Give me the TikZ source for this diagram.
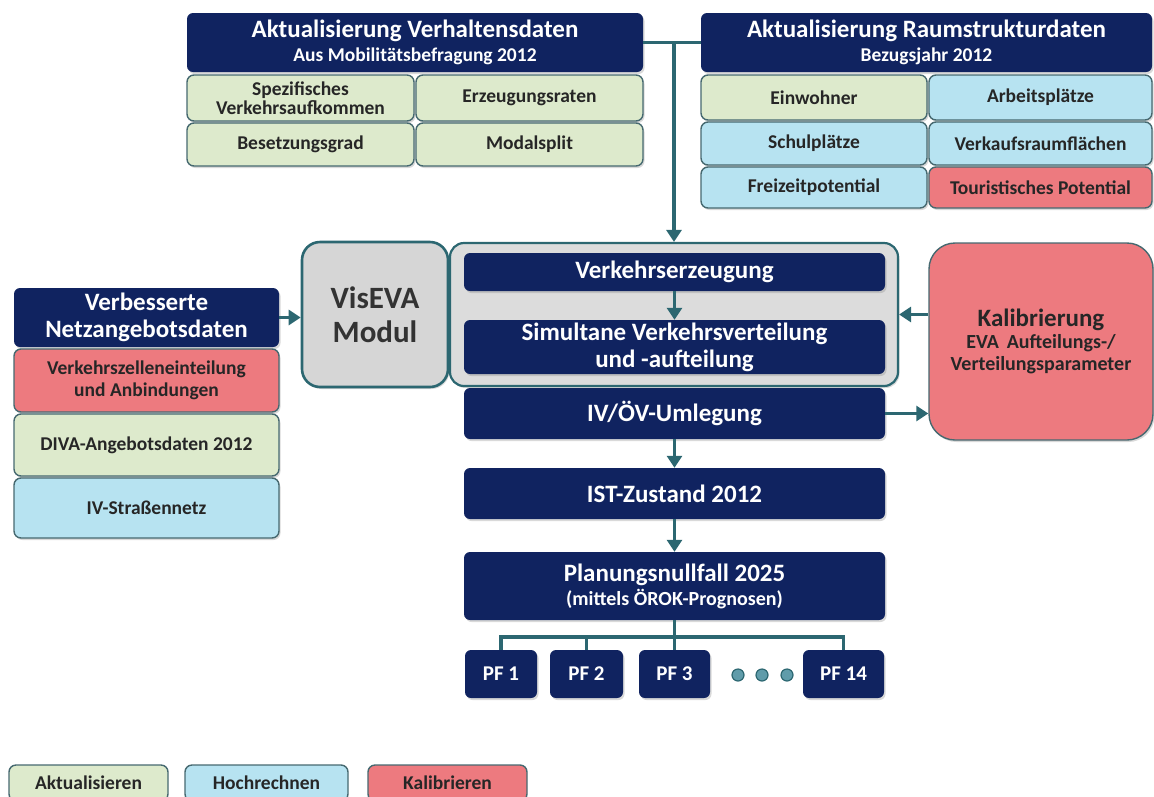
\documentclass[tikz,border=0pt]{standalone}
\usepackage{fontspec}
\setmainfont{Carlito}
\usetikzlibrary{arrows.meta,shadows}
\definecolor{navy}{RGB}{16,35,96}
\definecolor{lgreen}{RGB}{221,234,204}
\definecolor{lblue}{RGB}{183,227,241}
\definecolor{lred}{RGB}{237,122,127}
\definecolor{lgray}{RGB}{214,214,214}
\definecolor{teal}{RGB}{44,103,113}
\definecolor{edge}{RGB}{70,105,112}
\definecolor{dotfill}{RGB}{96,156,170}
\tikzset{
  shade/.style={drop shadow={shadow xshift=1.5pt,shadow yshift=-2pt,opacity=.3}},
  navybox/.style={shade,fill=navy,rounded corners=6pt,text=white,inner sep=0pt,
     align=center,font=\bfseries\fontsize{25}{27}\selectfont},
  cell/.style={shade,draw=edge,line width=1.4pt,rounded corners=7pt,inner sep=0pt,
     align=center,text=black!85,font=\bfseries\fontsize{19.5}{21}\selectfont},
  green/.style={cell,fill=lgreen},
  blue/.style={cell,fill=lblue},
  red/.style={cell,fill=lred},
  arr/.style={draw=teal,line width=3.6pt,-{Triangle[width=15pt,length=12pt]}},
  link/.style={draw=teal,line width=3.6pt},
  sz/.style 2 args={minimum width=#1pt,minimum height=#2pt},
}
\begin{document}
\begin{tikzpicture}[x=1pt,y=-1pt]
\useasboundingbox (0,0) rectangle (1154,796);

% behaviour data block
\node[navybox,sz={456}{59}] (hv) at (415,42.5)
  {Aktualisierung Verhaltensdaten\\[-3pt]{\fontsize{19.5}{21}\selectfont Aus Mobilitätsbefragung 2012}};
\node[green,sz={227}{46}] (g1) at (300.5,98) {Spezifisches\\[-2pt]Verkehrsaufkommen};
\node[green,sz={227}{46}] (g2) at (529.5,98) {Erzeugungsraten};
\node[green,sz={227}{43}] (g3) at (300.5,144.5) {Besetzungsgrad};
\node[green,sz={227}{43}] (g4) at (529.5,144.5) {Modalsplit};

% spatial structure data block
\node[navybox,sz={451}{59}] (hr) at (926.5,42.5)
  {Aktualisierung Raumstrukturdaten\\[-3pt]{\fontsize{19.5}{21}\selectfont Bezugsjahr 2012}};
\node[green,sz={226}{45}] (r1) at (814,97.5) {Einwohner};
\node[blue,sz={223}{45}] (r2) at (1040.5,97.5) {Arbeitsplätze};
\node[blue,sz={226}{43}] (r3) at (814,143.5) {Schulplätze};
\node[blue,sz={223}{43}] (r4) at (1040.5,143.5) {Verkaufsraumflächen};
\node[blue,sz={226}{41}] (r5) at (814,187.5) {Freizeitpotential};
\node[red,sz={223}{41}] (r6) at (1040.5,187.5) {Touristisches Potential};

% network data block
\node[navybox,sz={265}{59},font=\bfseries\fontsize{25}{27}\selectfont] (nv) at (146.5,317.5)
  {Verbesserte\\[0pt]Netzangebotsdaten};
\node[red,sz={265}{63}] (n1) at (146.5,380.5) {Verkehrszelleneinteilung\\[1pt]und Anbindungen};
\node[green,sz={265}{62}] (n2) at (146.5,445) {DIVA-Angebotsdaten 2012};
\node[blue,sz={265}{60}] (n3) at (146.5,508) {IV-Straßennetz};

% model
\node[shade,draw=teal,line width=2.6pt,fill=lgray,rounded corners=18pt,sz={146}{145},
  align=center,font=\bfseries\fontsize{31}{34}\selectfont,text=black!80] (vis) at (375,314.5)
  {VisEVA\\Modul};
\node[shade,draw=teal,line width=2.2pt,fill=lgray!85,rounded corners=14pt,sz={448}{143}] (cont) at (674,314.5) {};
\node[navybox,sz={421}{38}] (ve) at (674.5,272) {Verkehrserzeugung};
\node[navybox,sz={421}{54},font=\bfseries\fontsize{25}{27}\selectfont] (sim) at (674.5,347)
  {Simultane Verkehrsverteilung\\und -aufteilung};
\node[navybox,sz={421}{51}] (iv) at (674.5,413.5) {IV/ÖV-Umlegung};
\node[navybox,sz={421}{51}] (ist) at (674.5,493.5) {IST-Zustand 2012};
\node[navybox,sz={421}{68},font=\bfseries\fontsize{25}{27}\selectfont] (plan) at (674.5,586)
  {Planungsnullfall 2025\\[-3pt]{\fontsize{20}{22}\selectfont (mittels ÖROK-Prognosen)}};

% calibration
\node[shade,draw=edge,line width=1.4pt,fill=lred,rounded corners=26pt,sz={224}{197},
  align=center,text=black!85,font=\bfseries\fontsize{20}{22}\selectfont] (kal) at (1041,341.5)
  {{\fontsize{25}{27}\selectfont Kalibrierung}\\EVA\, Aufteilungs-/\\Verteilungsparameter};

% planning cases
\tikzset{pf/.style={navybox,sz={#1}{48},font=\bfseries\fontsize{21}{23}\selectfont}}
\node[pf=72] (pf1) at (501,674) {PF 1};
\node[pf=73] (pf2) at (586.5,674) {PF 2};
\node[pf=71] (pf3) at (674.5,674) {PF 3};
\node[pf=81] (pf14) at (843.5,674) {PF 14};
\foreach \x/\n in {738/d1,762/d2,787/d3}
  \node[circle,draw=teal,line width=1.2pt,fill=dotfill,minimum size=12pt,inner sep=0pt] (\n) at (\x,675) {};

% connectors
\draw[link] (hv.east) -- (hr.west);
\draw[arr] (cont.north |- hv.east) -- (cont.north);
\draw[arr] (nv.east) -- (nv.east -| vis.west);
\draw[arr] (kal.west |- cont.east) -- (cont.east);
\draw[arr] (iv.east) -- (iv.east -| kal.west);
\draw[arr] (ve.south) -- (sim.north);
\draw[arr] (iv.south) -- (ist.north);
\draw[arr] (ist.south) -- (plan.north);
\coordinate (bar) at (674,637);
\draw[link] (plan.south) -- (pf3.north);
\draw[link] (pf1.north) -- (pf1.north |- bar) -- (pf14.north |- bar) -- (pf14.north);
\draw[link] (pf2.north) -- (pf2.north |- bar);

% legend
\tikzset{leg/.style={draw=edge,line width=1.4pt,rounded corners=7pt,sz={#1}{36},inner sep=0pt,
  text=black!85,font=\bfseries\fontsize{19.5}{21}\selectfont}}
\node[leg=159,fill=lgreen] (la) at (88.5,783) {Aktualisieren};
\node[leg=163,fill=lblue] (lh) at (266.5,783) {Hochrechnen};
\node[leg=159,fill=lred] (lk) at (447.5,783) {Kalibrieren};
\end{tikzpicture}
\end{document}
